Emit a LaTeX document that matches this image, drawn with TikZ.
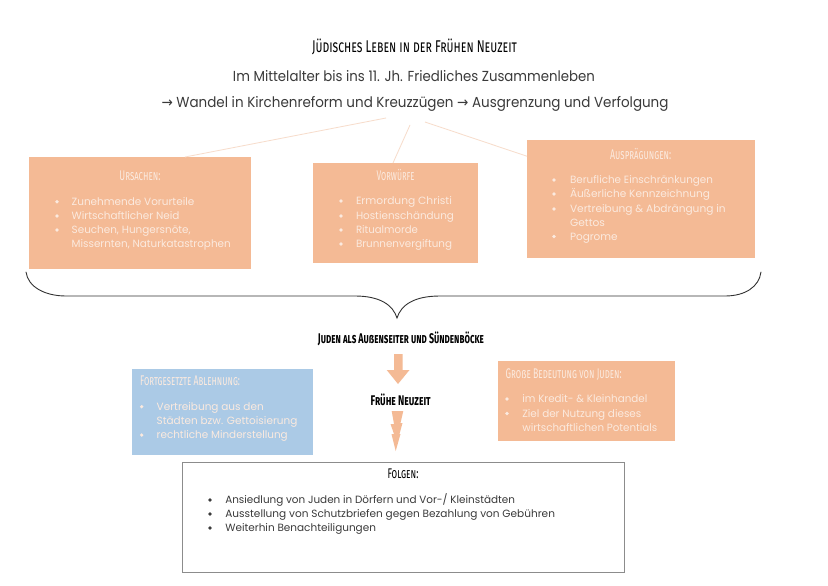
\documentclass[tikz,border=0pt]{standalone}
\usepackage{fontspec}
\usepackage{graphicx}
\setmainfont{Poppins}
\newfontfamily\arrowfont{DejaVu Sans}
\newfontfamily\headfont[Letters=SmallCaps]{Fira Sans}
\definecolor{peach}{HTML}{F4BA95}
\definecolor{skyb}{HTML}{ABCAE6}
\definecolor{paletext}{HTML}{FBEADF}
\definecolor{bodyt}{HTML}{3A3A3A}
\definecolor{peachline}{HTML}{F7DCCB}
\newcounter{tn}
\newcommand{\fw}[2]{\resizebox{#1pt}{\height}{#2}}
\newcommand{\Hc}[5][black]{\stepcounter{tn}\node[txt,anchor=base,text=#1,yshift=-4.5pt] (t\thetn) at (#2,#3) {\headfont\fontsize{14}{14}\selectfont\fw{#4}{#5}};}
\newcommand{\Hl}[5][black]{\stepcounter{tn}\node[txt,anchor=base west,text=#1,yshift=-4.5pt] (t\thetn) at (#2,#3) {\headfont\fontsize{14}{14}\selectfont\fw{#4}{#5}};}
\newcommand{\Bl}[6][paletext]{\stepcounter{tn}\node[dotmark,fill=#1] (b\thetn) at (#2,#4) {};\Tl[#1]{#3}{#4}{#5}{#6}}
\newcommand{\Tl}[5][paletext]{\stepcounter{tn}\node[txt,anchor=base west,text=#1,yshift=-3.8pt] (t\thetn) at (#2,#3) {\fontsize{10.5}{11}\selectfont\fw{#4}{#5}};}
\tikzset{
  txt/.style={inner sep=0pt,outer sep=0pt},
  dotmark/.style={circle,inner sep=0pt,outer sep=0pt,minimum size=3.6pt,draw=none},
  panel/.style={anchor=north west,inner sep=0pt,outer sep=0pt,draw=none},
  link/.style={draw=peachline,line width=0.8pt},
  solidblock/.style={fill=peach,draw=none},
}
\begin{document}
\begin{tikzpicture}[x=1pt,y=-1pt]
\useasboundingbox[fill=white] (0,0) rectangle (828,586);
% panels
\node[panel,fill=peach,minimum width=222pt,minimum height=112pt] (ursachen) at (29,157) {};
\node[panel,fill=peach,minimum width=165pt,minimum height=100pt] (vorwuerfe) at (313,163) {};
\node[panel,fill=peach,minimum width=228pt,minimum height=117.5pt] (auspraegungen) at (527,140) {};
\node[panel,fill=skyb,minimum width=181pt,minimum height=86pt] (ablehnung) at (132,369) {};
\node[panel,fill=peach,minimum width=176.5pt,minimum height=80pt] (bedeutung) at (498,361) {};
\node[panel,draw=black!45,line width=0.8pt,minimum width=442pt,minimum height=110pt] (folgen) at (182.5,462) {};
% top text
\node[txt,anchor=base,yshift=-5.5pt] (titel) at (414.5,47) {\headfont\fontsize{17}{17}\selectfont\fw{205}{Jüdisches Leben in der Frühen Neuzeit}};
\node[txt,anchor=base,yshift=-5.2pt,text=bodyt] (zeile1) at (414,76) {\fontsize{14.5}{15}\selectfont\fw{362}{Im Mittelalter bis ins 11. Jh. Friedliches Zusammenleben}};
\node[txt,anchor=base,yshift=-5.2pt,text=bodyt] (zeile2) at (415,102) {\fontsize{14.5}{15}\selectfont\fw{507}{{\arrowfont→} Wandel in Kirchenreform und Kreuzzügen {\arrowfont→} Ausgrenzung und Verfolgung}};
% connectors
\coordinate (la) at (386,118);
\coordinate (lb) at (410,125);
\coordinate (lc) at (425,122);
\draw[link] (la) -- ([xshift=45pt]ursachen.north);
\draw[link] (lb) -- ([xshift=-2.5pt]vorwuerfe.north);
\draw[link] (lc) -- ([yshift=42.5pt]auspraegungen.west);
% Ursachen
\Hc[paletext]{140}{176}{41}{Ursachen:}
\Bl{57}{71.7}{201.7}{122.7}{Zunehmende Vorurteile}
\Bl{57}{71.7}{216}{107.7}{Wirtschaftlicher Neid}
\Bl{57}{71.7}{230}{119}{Seuchen, Hungersnöte,}
\Tl{71.7}{244}{159}{Missernten, Naturkatastrophen}
% Vorwuerfe
\Hc[paletext]{395.5}{175.5}{38}{Vorwürfe}
\Bl{341}{356}{201}{96}{Ermordung Christi}
\Bl{341}{356}{216}{98}{Hostienschändung}
\Bl{341}{356}{230}{62}{Ritualmorde}
\Bl{341}{356}{244}{96}{Brunnenvergiftung}
% Auspraegungen
\Hc[paletext]{640.7}{155}{61}{Ausprägungen:}
\Bl{554}{570}{180}{143}{Berufliche Einschränkungen}
\Bl{554}{570}{194}{140}{Äußerliche Kennzeichnung}
\Bl{554}{570}{209}{155.7}{Vertreibung \& Abdrängung in}
\Tl{570}{222.5}{35}{Gettos}
\Bl{554}{570}{236.5}{47.7}{Pogrome}
% Brace
\draw[black!80,line width=0.9pt,line cap=round] (26,272) .. controls (28,287) and (45,296) .. (66,296)
  -- (355,296) .. controls (380,296) and (393,305) .. (397,318)
  .. controls (401,305) and (414,296) .. (440,296)
  -- (725,296) .. controls (745,296) and (759,287) .. (761,272);
\Hc{401}{339}{166}{\bfseries Juden als Außenseiter und Sündenböcke}
\Hc{400.7}{401}{60}{\bfseries Frühe Neuzeit}
% Arrows
\fill[solidblock] (394,354) -- (402.7,354) -- (402.7,370) -- (409.5,370) -- (398,384) -- (386.7,370) -- (394,370) -- cycle;
\fill[solidblock] (391.7,411) -- (403.3,411) -- (400.5,423) -- (402.5,423) -- (399.5,434) -- (400.5,434) -- (395.7,451) -- (391.5,434) -- (394,434) -- (390.5,424) -- (394,424) -- cycle;
% Ablehnung
\Hl[paletext]{140}{381}{100}{Fortgesetzte Ablehnung:}
\Bl{141.7}{156.7}{406.7}{107}{Vertreibung aus den}
\Tl{156.7}{421}{140.7}{Städten bzw. Gettoisierung}
\Bl{141.7}{156.7}{435}{131}{rechtliche Minderstellung}
% Bedeutung
\Hl[paletext]{505.7}{374}{116}{Große Bedeutung von Juden:}
\Bl{507}{522.3}{399}{125}{im Kredit- \& Kleinhandel}
\Bl{507}{522.3}{413.5}{119}{Ziel der Nutzung dieses}
\Tl{522.3}{427.5}{135}{wirtschaftlichen Potentials}
% Folgen
\Hc{403}{474}{31}{Folgen:}
\Bl[bodyt]{210}{225.3}{500}{289.7}{Ansiedlung von Juden in Dörfern und Vor-/ Kleinstädten}
\Bl[bodyt]{210}{225.3}{514}{329.7}{Ausstellung von Schutzbriefen gegen Bezahlung von Gebühren}
\Bl[bodyt]{210}{225.3}{528}{150.7}{Weiterhin Benachteiligungen}
\end{tikzpicture}
\end{document}
